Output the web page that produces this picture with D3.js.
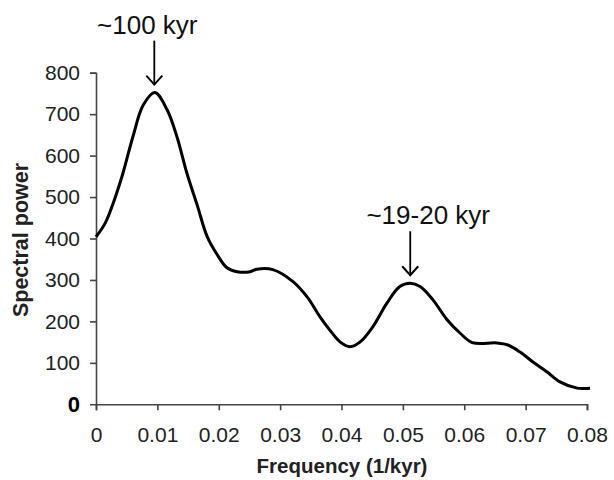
<!DOCTYPE html>
<html>
<head>
<meta charset="utf-8">
<script src="https://cdn.jsdelivr.net/npm/d3@7"></script>
<style>
  body { margin: 0; background: #fff; }
  svg { display: block; font-family: "Liberation Sans", Arial, sans-serif; }
</style>
</head>
<body>
<div id="container"></div>
<script>
const width = 614, height = 480;

// spectrum
const freq = [0, 0.0015, 0.0028, 0.0044, 0.006, 0.0077, 0.0096, 0.0116, 0.0132, 0.0148, 0.0165,
  0.0181, 0.0197, 0.0213, 0.023, 0.0251, 0.0262, 0.0288, 0.0321, 0.0344, 0.0365, 0.0381,
  0.0398, 0.0414, 0.043, 0.0451, 0.0474, 0.0495, 0.0512, 0.0528, 0.0549, 0.0572, 0.0593,
  0.0613, 0.0653, 0.0671, 0.0691, 0.0712, 0.0735, 0.0756, 0.0784, 0.0805];
const power = [404, 437, 485, 558, 645, 722, 752, 710, 645, 558, 480,
  405, 362, 330, 320, 320, 326, 325, 296, 259, 211, 179,
  150, 139, 150, 187, 244, 284, 292, 284, 252, 204, 172,
  149, 148, 143, 126, 102, 78, 54, 39, 39];

const xTicks = [0, 0.01, 0.02, 0.03, 0.04, 0.05, 0.06, 0.07, 0.08];
const yTicks = [100, 200, 300, 400, 500, 600, 700, 800];

const peaks = [
  { f: 0.0095, p: 752, label: "~100 kyr", dx: -7 },
  { f: 0.0512, p: 292, label: "~19-20 kyr", dx: 18 }
];

const x = d3.scaleLinear().domain([0, 0.08]).range([96, 587]);
const y = d3.scaleLinear().domain([0, 800]).range([404.3, 72.7]);

const svg = d3.select("#container").append("svg")
  .attr("width", width).attr("height", height);

// axes
const xAxis = svg.append("g")
  .attr("transform", `translate(0,${y(0)})`)
  .call(d3.axisBottom(x).tickValues(xTicks).tickSize(6).tickPadding(14)
    .tickFormat(d => d === 0 ? "0" : d3.format(".2f")(d)));
const yAxis = svg.append("g")
  .attr("transform", `translate(${x(0)},0)`)
  .call(d3.axisLeft(y).tickValues(yTicks).tickSize(6).tickPadding(10).tickFormat(d3.format("d")));

[xAxis, yAxis].forEach(a => {
  a.select(".domain").attr("stroke", "#444").attr("stroke-width", 1.6);
  a.selectAll(".tick line").attr("stroke", "#444").attr("stroke-width", 1.6);
  a.selectAll(".tick text").attr("fill", "#222").style("font-size", "21px");
});
xAxis.selectAll(".tick text").attr("dy", "0.85em");

// bold zero on the y axis
svg.append("text")
  .attr("x", 80).attr("y", y(0)).attr("dy", "0.36em")
  .attr("text-anchor", "end")
  .style("font-size", "22px").style("font-weight", "bold")
  .text("0");

// axis titles
svg.append("text")
  .attr("x", 342).attr("y", 473)
  .attr("text-anchor", "middle")
  .style("font-size", "20.5px").style("font-weight", "bold").attr("fill", "#222")
  .text("Frequency (1/kyr)");
svg.append("text")
  .attr("transform", "translate(28,240) rotate(-90)")
  .attr("text-anchor", "middle")
  .style("font-size", "21.5px").style("font-weight", "bold").attr("fill", "#222")
  .text("Spectral power");

// spectrum
const line = d3.line()
  .x((d, i) => x(freq[i]))
  .y(d => y(d))
  .curve(d3.curveCatmullRom.alpha(0.5));
svg.append("path")
  .datum(power)
  .attr("fill", "none")
  .attr("stroke", "#000")
  .attr("stroke-width", 3)
  .attr("stroke-linejoin", "round")
  .attr("d", line);

// peak annotations
peaks.forEach(pk => {
  const px = x(pk.f), tip = y(pk.p) - 8;
  svg.append("line")
    .attr("x1", px).attr("x2", px)
    .attr("y1", tip - 44).attr("y2", tip)
    .attr("stroke", "#000").attr("stroke-width", 1.8);
  svg.append("path")
    .attr("d", `M${px - 8},${tip - 9} L${px},${tip} L${px + 8},${tip - 9}`)
    .attr("fill", "none").attr("stroke", "#000").attr("stroke-width", 2);
  svg.append("text")
    .attr("x", px + pk.dx).attr("y", tip - 51)
    .attr("text-anchor", "middle")
    .style("font-size", "26px").attr("fill", "#111")
    .text(pk.label);
});
</script>
</body>
</html>
